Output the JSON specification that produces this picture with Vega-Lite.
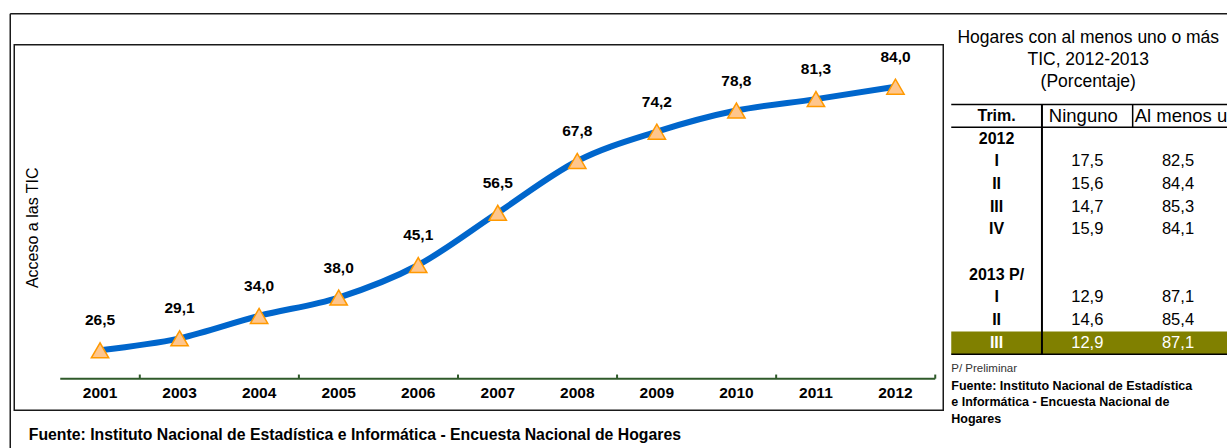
{
  "$schema": "https://vega.github.io/schema/vega-lite/v6.json",
  "autosize": {"type": "pad"},
  "padding": {"left": 8.25, "top": 11.75, "right": 0, "bottom": 0},
  "background": "white",
  "bounds": "flush",
  "spacing": 8,
  "config": {
    "font": "Liberation Sans, Arial, sans-serif",
    "locale": {"number": {"decimal": ",", "thousands": ".", "grouping": [3], "currency": ["", ""]}},
    "axis": {"grid": false},
    "text": {"color": "#000"}
  },
  "datasets": {
    "acceso": [
      {"anio": "2001", "valor": 26.5},
      {"anio": "2003", "valor": 29.1},
      {"anio": "2004", "valor": 34.0},
      {"anio": "2005", "valor": 38.0},
      {"anio": "2006", "valor": 45.1},
      {"anio": "2007", "valor": 56.5},
      {"anio": "2008", "valor": 67.8},
      {"anio": "2009", "valor": 74.2},
      {"anio": "2010", "valor": 78.8},
      {"anio": "2011", "valor": 81.3},
      {"anio": "2012", "valor": 84.0}
    ],
    "tabla": [
      {"r": "head", "trim": "Trim."},
      {"r": "2012", "trim": "2012"},
      {"r": "2012-I", "trim": "I", "ninguno": 17.5, "almenos": 82.5},
      {"r": "2012-II", "trim": "II", "ninguno": 15.6, "almenos": 84.4},
      {"r": "2012-III", "trim": "III", "ninguno": 14.7, "almenos": 85.3},
      {"r": "2012-IV", "trim": "IV", "ninguno": 15.9, "almenos": 84.1},
      {"r": "blank", "trim": ""},
      {"r": "2013", "trim": "2013 P/"},
      {"r": "2013-I", "trim": "I", "ninguno": 12.9, "almenos": 87.1},
      {"r": "2013-II", "trim": "II", "ninguno": 14.6, "almenos": 85.4},
      {"r": "2013-III", "trim": "III", "ninguno": 12.9, "almenos": 87.1}
    ],
    "cabecera": [
      {"col": "Ninguno"},
      {"col": "Al menos uno"}
    ],
    "notas": [
      {"k": "p", "t": "P/ Preliminar"},
      {"k": "f1", "t": "Fuente: Instituto Nacional de Estadística"},
      {"k": "f2", "t": "e Informática - Encuesta Nacional de"},
      {"k": "f3", "t": "Hogares"}
    ],
    "uno": [{}]
  },
  "hconcat": [
    {
      "width": 929,
      "height": 365.5,
      "view": {"stroke": "#1a1a1a", "strokeWidth": 1.5},
      "layer": [
        {
          "data": {"name": "acceso"},
          "mark": {"type": "line", "color": "#0066cc", "strokeWidth": 6, "interpolate": "monotone"},
          "encoding": {
            "x": {
              "field": "anio", "type": "nominal",
              "scale": {"domain": ["2001", "2003", "2004", "2005", "2006", "2007", "2008", "2009", "2010", "2011", "2012"], "paddingInner": 0, "paddingOuter": 0.33943, "align": 0.85185},
              "axis": {
                "title": "Fuente: Instituto Nacional de Estadística e Informática - Encuesta Nacional de Hogares",
                "titleFontWeight": "bold", "titleFontSize": 15.8, "titleColor": "#000",
                "titleX": 14, "titleY": 61, "titleAlign": "left", "titleBaseline": "alphabetic", "titleAnchor": "start",
                "offset": -32, "domain": false, "ticks": false, "tickSize": 0,
                "labelPadding": 7, "labelFontSize": 15.5, "labelFontWeight": "bold", "labelColor": "#000", "labelAngle": 0
              }
            },
            "y": {
              "field": "valor", "type": "quantitative",
              "scale": {"domain": [13.41, 93.16], "nice": false, "zero": false},
              "axis": {
                "title": "Acceso a las TIC", "titleFontSize": 16, "titleFontWeight": "normal", "titleColor": "#000",
                "titleX": 18, "titleY": 182.5, "titleAngle": -90, "titleAlign": "center", "titleBaseline": "middle",
                "labels": false, "ticks": false, "domain": false, "grid": false
              }
            }
          }
        },
        {
          "data": {"name": "uno"},
          "mark": {"type": "rule", "color": "#1a1a1a", "strokeWidth": 1.5},
          "encoding": {
            "x": {"datum": "2001", "type": "nominal", "bandPosition": -0.6286},
            "x2": {"datum": "2012", "bandPosition": 5.6},
            "y": {"datum": 99.92, "type": "quantitative", "scale": {"domain": [13.41, 93.16], "nice": false, "zero": false}}
          }
        },
        {
          "data": {"name": "uno"},
          "mark": {"type": "rule", "color": "#1a1a1a", "strokeWidth": 1.5},
          "encoding": {
            "x": {"datum": "2001", "type": "nominal", "bandPosition": -0.6286},
            "y": {"datum": 99.92, "type": "quantitative", "scale": {"domain": [13.41, 93.16], "nice": false, "zero": false}},
            "y2": {"datum": 0}
          }
        },
        {
          "data": {"name": "uno"},
          "mark": {"type": "rule", "color": "#2f5a2a", "strokeWidth": 2},
          "encoding": {
            "x": {"datum": "2001", "type": "nominal", "bandPosition": 0},
            "x2": {"datum": "2012", "bandPosition": 1},
            "y": {"datum": 20.3, "type": "quantitative", "scale": {"domain": [13.41, 93.16], "nice": false, "zero": false}}
          }
        },
        {
          "data": {"name": "acceso"},
          "transform": [{"filter": {"field": "anio", "oneOf": ["2001", "2004", "2006", "2008", "2010", "2012"]}}],
          "mark": {"type": "rule", "color": "#2f5a2a", "strokeWidth": 2},
          "encoding": {
            "x": {"field": "anio", "type": "nominal", "bandPosition": 1},
            "y": {"datum": 20.3, "type": "quantitative"},
            "y2": {"datum": 21.2}
          }
        },
        {
          "data": {"name": "acceso"},
          "mark": {"type": "point", "shape": "triangle-up", "filled": true, "size": 300, "fill": "#ffc68c", "stroke": "#ff9900", "strokeWidth": 1.5, "opacity": 1},
          "encoding": {
            "x": {"field": "anio", "type": "nominal"},
            "y": {"field": "valor", "type": "quantitative"}
          }
        },
        {
          "data": {"name": "acceso"},
          "mark": {"type": "text", "dy": -30, "fontWeight": "bold", "fontSize": 15.5, "baseline": "middle", "color": "#000"},
          "encoding": {
            "x": {"field": "anio", "type": "nominal"},
            "y": {"field": "valor", "type": "quantitative"},
            "text": {"field": "valor", "type": "quantitative", "format": ".1f"}
          }
        }
      ]
    },
    {
      "vconcat": [
        {
          "width": 280,
          "height": 309.5,
          "view": {"stroke": null},
          "title": {"text": ["Hogares con al menos uno o más", "TIC, 2012-2013", "(Porcentaje)"], "fontSize": 17.5, "fontWeight": "normal", "lineHeight": 22, "baseline": "alphabetic", "offset": -60, "anchor": "middle", "color": "#000", "frame": "group", "dx": -3},
          "layer": [
            {
              "data": {"name": "tabla"},
              "transform": [{"filter": "datum.r == '2013-III'"}],
              "mark": {"type": "rect", "fill": "#808000"},
              "encoding": {
                "y": {"field": "r", "type": "nominal", "axis": null,
                  "scale": {"type": "band", "domain": ["sp", "head", "2012", "2012-I", "2012-II", "2012-III", "2012-IV", "blank", "2013", "2013-I", "2013-II", "2013-III"], "paddingInner": 0, "paddingOuter": 0.817, "align": 1}}
              }
            },
            {
              "data": {"name": "uno"},
              "mark": {"type": "rule", "color": "#000", "strokeWidth": 1.5},
              "encoding": {"y": {"datum": "head", "type": "nominal", "bandPosition": 0, "axis": null}}
            },
            {
              "data": {"name": "uno"},
              "mark": {"type": "rule", "color": "#000", "strokeWidth": 1.5},
              "encoding": {"y": {"datum": "2012", "type": "nominal", "bandPosition": 0, "axis": null}}
            },
            {
              "data": {"name": "uno"},
              "mark": {"type": "rule", "color": "#000", "strokeWidth": 1.5},
              "encoding": {"y": {"datum": "2013-III", "type": "nominal", "bandPosition": 1, "axis": null}}
            },
            {
              "data": {"name": "uno"},
              "mark": {"type": "rule", "color": "#000", "strokeWidth": 2},
              "encoding": {
                "x": {"datum": "Ninguno", "type": "nominal", "bandPosition": 0, "axis": null,
                  "scale": {"type": "band", "domain": ["Trim.", "Ninguno", "Al menos uno"], "paddingInner": 0, "paddingOuter": 0.0435, "align": 0}},
                "y": {"datum": "head", "type": "nominal", "bandPosition": 0, "axis": null},
                "y2": {"datum": "2013-III", "bandPosition": 1}
              }
            },
            {
              "data": {"name": "uno"},
              "mark": {"type": "rule", "color": "#000", "strokeWidth": 1.5},
              "encoding": {
                "x": {"datum": "Al menos uno", "type": "nominal", "bandPosition": 0, "axis": null},
                "y": {"datum": "head", "type": "nominal", "bandPosition": 0, "axis": null},
                "y2": {"datum": "2012", "bandPosition": 0}
              }
            },
            {
              "data": {"name": "tabla"},
              "mark": {"type": "text", "fontWeight": "bold", "fontSize": 16, "baseline": "middle", "align": "center"},
              "encoding": {
                "x": {"datum": "Trim.", "type": "nominal", "axis": null},
                "y": {"field": "r", "type": "nominal", "axis": null},
                "text": {"field": "trim"},
                "color": {"condition": {"test": "datum.r == '2013-III'", "value": "#ffffff"}, "value": "#000000"}
              }
            },
            {
              "data": {"name": "tabla"},
              "transform": [{"filter": "isValid(datum.ninguno)"}],
              "mark": {"type": "text", "fontSize": 16.5, "baseline": "middle", "align": "center"},
              "encoding": {
                "x": {"datum": "Ninguno", "type": "nominal", "axis": null},
                "y": {"field": "r", "type": "nominal", "axis": null},
                "text": {"field": "ninguno", "type": "quantitative", "format": ".1f"},
                "color": {"condition": {"test": "datum.r == '2013-III'", "value": "#ffffff"}, "value": "#000000"}
              }
            },
            {
              "data": {"name": "tabla"},
              "transform": [{"filter": "isValid(datum.almenos)"}],
              "mark": {"type": "text", "fontSize": 16.5, "baseline": "middle", "align": "center"},
              "encoding": {
                "x": {"datum": "Al menos uno", "type": "nominal", "axis": null},
                "y": {"field": "r", "type": "nominal", "axis": null},
                "text": {"field": "almenos", "type": "quantitative", "format": ".1f"},
                "color": {"condition": {"test": "datum.r == '2013-III'", "value": "#ffffff"}, "value": "#000000"}
              }
            },
            {
              "data": {"name": "cabecera"},
              "transform": [{"filter": "datum.col == 'Ninguno'"}],
              "mark": {"type": "text", "fontSize": 18.5, "baseline": "middle", "align": "center", "dx": -4},
              "encoding": {
                "x": {"field": "col", "type": "nominal", "axis": null},
                "y": {"datum": "head", "type": "nominal", "axis": null},
                "text": {"field": "col"}
              }
            },
            {
              "data": {"name": "cabecera"},
              "transform": [{"filter": "datum.col == 'Al menos uno'"}],
              "mark": {"type": "text", "fontSize": 18.5, "baseline": "middle", "align": "left", "dx": 2},
              "encoding": {
                "x": {"field": "col", "type": "nominal", "bandPosition": 0, "axis": null},
                "y": {"datum": "head", "type": "nominal", "axis": null},
                "text": {"field": "col"}
              }
            }
          ]
        },
        {
          "width": 280,
          "height": 72,
          "view": {"stroke": null},
          "data": {"name": "notas"},
          "layer": [
            {
              "transform": [{"filter": "datum.k == 'p'"}],
              "mark": {"type": "text", "fontSize": 11.5, "baseline": "middle", "align": "left", "color": "#333"},
              "encoding": {
                "x": {"datum": "Trim.", "type": "nominal", "bandPosition": 0, "axis": null,
                  "scale": {"type": "band", "domain": ["Trim.", "Ninguno", "Al menos uno"], "paddingInner": 0, "paddingOuter": 0.0435, "align": 0}},
                "y": {"field": "k", "type": "nominal", "axis": null,
                  "scale": {"type": "band", "domain": ["p", "f1", "f2", "f3"], "paddingInner": 0, "paddingOuter": 0.182, "align": 1}},
                "text": {"field": "t"}
              }
            },
            {
              "transform": [{"filter": "datum.k != 'p'"}],
              "mark": {"type": "text", "fontSize": 12.5, "fontWeight": "bold", "baseline": "middle", "align": "left"},
              "encoding": {
                "x": {"datum": "Trim.", "type": "nominal", "bandPosition": 0, "axis": null},
                "y": {"field": "k", "type": "nominal", "axis": null},
                "text": {"field": "t"}
              }
            }
          ]
        }
      ],
      "spacing": 0,
      "bounds": "flush"
    }
  ]
}
